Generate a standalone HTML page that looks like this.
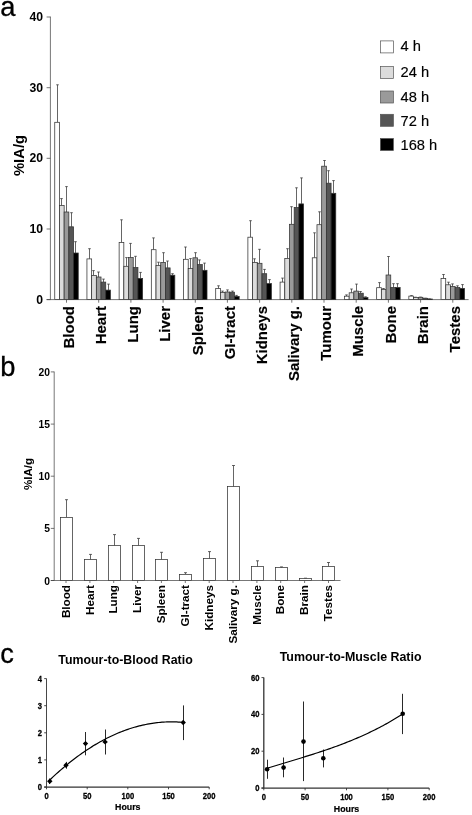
<!DOCTYPE html>
<html><head><meta charset="utf-8"><title>Figure</title>
<style>html,body{margin:0;padding:0;background:#fff}svg{display:block}</style></head>
<body><svg width="472" height="815" viewBox="0 0 472 815" style="filter:blur(0.3px)">
<rect width="472" height="815" fill="#fff"/>
<text x="0.3" y="15.9" font-size="27.3" stroke="#000" stroke-width="0.3" font-family='"Liberation Sans", Arial, sans-serif'>a</text>
<g stroke="#3c3c3c" stroke-width="0.7" fill="none">
<path d="M50.4 16.6V299.6"/>
<path d="M46.6 299.6H468.6"/>
<path d="M46.6 299.6H50.4"/>
<path d="M46.6 229.0H50.4"/>
<path d="M46.6 158.3H50.4"/>
<path d="M46.6 87.7H50.4"/>
<path d="M46.6 17.0H50.4"/>
<path d="M66.5 299.6V302.70000000000005"/>
<path d="M98.7 299.6V302.70000000000005"/>
<path d="M130.9 299.6V302.70000000000005"/>
<path d="M163.1 299.6V302.70000000000005"/>
<path d="M195.3 299.6V302.70000000000005"/>
<path d="M227.4 299.6V302.70000000000005"/>
<path d="M259.6 299.6V302.70000000000005"/>
<path d="M291.8 299.6V302.70000000000005"/>
<path d="M324.0 299.6V302.70000000000005"/>
<path d="M356.2 299.6V302.70000000000005"/>
<path d="M388.4 299.6V302.70000000000005"/>
<path d="M420.6 299.6V302.70000000000005"/>
<path d="M452.8 299.6V302.70000000000005"/>
</g>
<text x="43" y="232.9" text-anchor="end" font-weight="bold" font-size="12.2" font-family='"Liberation Sans", Arial, sans-serif'>10</text>
<text x="43" y="162.2" text-anchor="end" font-weight="bold" font-size="12.2" font-family='"Liberation Sans", Arial, sans-serif'>20</text>
<text x="43" y="91.6" text-anchor="end" font-weight="bold" font-size="12.2" font-family='"Liberation Sans", Arial, sans-serif'>30</text>
<text x="43" y="20.9" text-anchor="end" font-weight="bold" font-size="12.2" font-family='"Liberation Sans", Arial, sans-serif'>40</text>
<text x="43" y="304.0" text-anchor="end" font-weight="bold" font-size="12.2" font-family='"Liberation Sans", Arial, sans-serif'>0</text>
<text transform="translate(23.8 176) rotate(-90)" textLength="41" lengthAdjust="spacingAndGlyphs" font-weight="bold" font-size="15.5" font-family='"Liberation Sans", Arial, sans-serif'>%IA/g</text>
<g stroke="#333" stroke-width="0.75">
<path d="M57.50 122.3V84.8M56.20 84.8H58.80" fill="none"/>
<rect x="54.75" y="122.3" width="4.7" height="177.3" fill="#ffffff"/>
<path d="M61.50 205.6V198.6M60.20 198.6H62.80" fill="none"/>
<rect x="59.45" y="205.6" width="4.7" height="94.0" fill="#dcdcdc"/>
<path d="M66.50 212.0V186.6M65.20 186.6H67.80" fill="none"/>
<rect x="64.15" y="212.0" width="4.7" height="87.6" fill="#9a9a9a"/>
<path d="M71.50 226.8V212.7M70.20 212.7H72.80" fill="none"/>
<rect x="68.85" y="226.8" width="4.7" height="72.8" fill="#555555"/>
<path d="M75.50 253.0V241.7M74.20 241.7H76.80" fill="none"/>
<rect x="73.55" y="253.0" width="4.7" height="46.6" fill="#000000"/>
<path d="M89.50 258.9V248.7M88.20 248.7H90.80" fill="none"/>
<rect x="86.94" y="258.9" width="4.7" height="40.7" fill="#ffffff"/>
<path d="M93.50 275.4V270.6M92.20 270.6H94.80" fill="none"/>
<rect x="91.64" y="275.4" width="4.7" height="24.2" fill="#dcdcdc"/>
<path d="M98.50 277.0V272.0M97.20 272.0H99.80" fill="none"/>
<rect x="96.34" y="277.0" width="4.7" height="22.6" fill="#9a9a9a"/>
<path d="M103.50 282.1V279.1M102.20 279.1H104.80" fill="none"/>
<rect x="101.04" y="282.1" width="4.7" height="17.5" fill="#555555"/>
<path d="M108.50 290.1V284.1M107.20 284.1H109.80" fill="none"/>
<rect x="105.74" y="290.1" width="4.7" height="9.5" fill="#000000"/>
<path d="M121.50 242.5V219.8M120.20 219.8H122.80" fill="none"/>
<rect x="119.13" y="242.5" width="4.7" height="57.1" fill="#ffffff"/>
<path d="M126.50 266.3V257.6M125.20 257.6H127.80" fill="none"/>
<rect x="123.83" y="266.3" width="4.7" height="33.3" fill="#dcdcdc"/>
<path d="M130.50 257.6V243.4M129.20 243.4H131.80" fill="none"/>
<rect x="128.53" y="257.6" width="4.7" height="42.0" fill="#9a9a9a"/>
<path d="M135.50 267.5V256.3M134.20 256.3H136.80" fill="none"/>
<rect x="133.23" y="267.5" width="4.7" height="32.1" fill="#555555"/>
<path d="M140.50 278.4V272.4M139.20 272.4H141.80" fill="none"/>
<rect x="137.93" y="278.4" width="4.7" height="21.2" fill="#000000"/>
<path d="M153.50 249.7V237.9M152.20 237.9H154.80" fill="none"/>
<rect x="151.32" y="249.7" width="4.7" height="49.9" fill="#ffffff"/>
<path d="M158.50 265.6V262.2M157.20 262.2H159.80" fill="none"/>
<rect x="156.02" y="265.6" width="4.7" height="34.0" fill="#dcdcdc"/>
<path d="M163.50 262.4V252.7M162.20 252.7H164.80" fill="none"/>
<rect x="160.72" y="262.4" width="4.7" height="37.2" fill="#9a9a9a"/>
<path d="M167.50 267.9V261.0M166.20 261.0H168.80" fill="none"/>
<rect x="165.42" y="267.9" width="4.7" height="31.7" fill="#555555"/>
<path d="M172.50 275.2V273.7M171.20 273.7H173.80" fill="none"/>
<rect x="170.12" y="275.2" width="4.7" height="24.4" fill="#000000"/>
<path d="M185.50 259.3V247.0M184.20 247.0H186.80" fill="none"/>
<rect x="183.51" y="259.3" width="4.7" height="40.3" fill="#ffffff"/>
<path d="M190.50 268.6V258.6M189.20 258.6H191.80" fill="none"/>
<rect x="188.21" y="268.6" width="4.7" height="31.0" fill="#dcdcdc"/>
<path d="M195.50 257.8V252.7M194.20 252.7H196.80" fill="none"/>
<rect x="192.91" y="257.8" width="4.7" height="41.8" fill="#9a9a9a"/>
<path d="M199.50 264.6V259.9M198.20 259.9H200.80" fill="none"/>
<rect x="197.61" y="264.6" width="4.7" height="35.0" fill="#555555"/>
<path d="M204.50 270.3V263.1M203.20 263.1H205.80" fill="none"/>
<rect x="202.31" y="270.3" width="4.7" height="29.3" fill="#000000"/>
<path d="M218.50 288.6V285.8M217.20 285.8H219.80" fill="none"/>
<rect x="215.70" y="288.6" width="4.7" height="11.0" fill="#ffffff"/>
<path d="M222.50 292.4V291.1M221.20 291.1H223.80" fill="none"/>
<rect x="220.40" y="292.4" width="4.7" height="7.2" fill="#dcdcdc"/>
<path d="M227.50 292.0V289.9M226.20 289.9H228.80" fill="none"/>
<rect x="225.10" y="292.0" width="4.7" height="7.6" fill="#9a9a9a"/>
<path d="M232.50 292.2V291.1M231.20 291.1H233.80" fill="none"/>
<rect x="229.80" y="292.2" width="4.7" height="7.4" fill="#555555"/>
<path d="M236.50 296.4V295.4M235.20 295.4H237.80" fill="none"/>
<rect x="234.50" y="296.4" width="4.7" height="3.2" fill="#000000"/>
<path d="M250.50 237.2V220.7M249.20 220.7H251.80" fill="none"/>
<rect x="247.89" y="237.2" width="4.7" height="62.4" fill="#ffffff"/>
<path d="M254.50 262.4V258.8M253.20 258.8H255.80" fill="none"/>
<rect x="252.59" y="262.4" width="4.7" height="37.2" fill="#dcdcdc"/>
<path d="M259.50 263.3V249.3M258.20 249.3H260.80" fill="none"/>
<rect x="257.29" y="263.3" width="4.7" height="36.3" fill="#9a9a9a"/>
<path d="M264.50 273.7V269.4M263.20 269.4H265.80" fill="none"/>
<rect x="261.99" y="273.7" width="4.7" height="25.9" fill="#555555"/>
<path d="M269.50 283.6V279.6M268.20 279.6H270.80" fill="none"/>
<rect x="266.69" y="283.6" width="4.7" height="16.0" fill="#000000"/>
<path d="M282.50 282.1V278.1M281.20 278.1H283.80" fill="none"/>
<rect x="280.08" y="282.1" width="4.7" height="17.5" fill="#ffffff"/>
<path d="M287.50 258.4V248.7M286.20 248.7H288.80" fill="none"/>
<rect x="284.78" y="258.4" width="4.7" height="41.2" fill="#dcdcdc"/>
<path d="M291.50 224.3V206.7M290.20 206.7H292.80" fill="none"/>
<rect x="289.48" y="224.3" width="4.7" height="75.3" fill="#9a9a9a"/>
<path d="M296.50 207.5V187.8M295.20 187.8H297.80" fill="none"/>
<rect x="294.18" y="207.5" width="4.7" height="92.1" fill="#555555"/>
<path d="M301.50 203.9V177.9M300.20 177.9H302.80" fill="none"/>
<rect x="298.88" y="203.9" width="4.7" height="95.7" fill="#000000"/>
<path d="M314.50 257.8V232.8M313.20 232.8H315.80" fill="none"/>
<rect x="312.27" y="257.8" width="4.7" height="41.8" fill="#ffffff"/>
<path d="M319.50 224.7V211.8M318.20 211.8H320.80" fill="none"/>
<rect x="316.97" y="224.7" width="4.7" height="74.9" fill="#dcdcdc"/>
<path d="M324.50 166.2V160.5M323.20 160.5H325.80" fill="none"/>
<rect x="321.67" y="166.2" width="4.7" height="133.4" fill="#9a9a9a"/>
<path d="M328.50 183.2V170.7M327.20 170.7H329.80" fill="none"/>
<rect x="326.37" y="183.2" width="4.7" height="116.4" fill="#555555"/>
<path d="M333.50 193.3V180.6M332.20 180.6H334.80" fill="none"/>
<rect x="331.07" y="193.3" width="4.7" height="106.3" fill="#000000"/>
<path d="M346.50 296.2V294.9M345.20 294.9H347.80" fill="none"/>
<rect x="344.46" y="296.2" width="4.7" height="3.4" fill="#ffffff"/>
<path d="M351.50 292.8V289.0M350.20 289.0H352.80" fill="none"/>
<rect x="349.16" y="292.8" width="4.7" height="6.8" fill="#dcdcdc"/>
<path d="M356.50 291.1V284.1M355.20 284.1H357.80" fill="none"/>
<rect x="353.86" y="291.1" width="4.7" height="8.5" fill="#9a9a9a"/>
<path d="M360.50 293.2V291.5M359.20 291.5H361.80" fill="none"/>
<rect x="358.56" y="293.2" width="4.7" height="6.4" fill="#555555"/>
<path d="M365.50 297.6V296.8M364.20 296.8H366.80" fill="none"/>
<rect x="363.26" y="297.6" width="4.7" height="2.0" fill="#000000"/>
<path d="M379.50 287.7V282.6M378.20 282.6H380.80" fill="none"/>
<rect x="376.65" y="287.7" width="4.7" height="11.9" fill="#ffffff"/>
<path d="M383.50 289.4V288.5M382.20 288.5H384.80" fill="none"/>
<rect x="381.35" y="289.4" width="4.7" height="10.2" fill="#dcdcdc"/>
<path d="M388.50 275.0V256.5M387.20 256.5H389.80" fill="none"/>
<rect x="386.05" y="275.0" width="4.7" height="24.6" fill="#9a9a9a"/>
<path d="M393.50 287.5V283.7M392.20 283.7H394.80" fill="none"/>
<rect x="390.75" y="287.5" width="4.7" height="12.1" fill="#555555"/>
<path d="M397.50 287.5V283.7M396.20 283.7H398.80" fill="none"/>
<rect x="395.45" y="287.5" width="4.7" height="12.1" fill="#000000"/>
<path d="M411.50 296.1V295.6M410.20 295.6H412.80" fill="none"/>
<rect x="408.84" y="296.1" width="4.7" height="3.5" fill="#ffffff"/>
<path d="M415.50 297.5V297.2M414.20 297.2H416.80" fill="none"/>
<rect x="413.54" y="297.5" width="4.7" height="2.1" fill="#dcdcdc"/>
<path d="M420.50 297.3V297.1M419.20 297.1H421.80" fill="none"/>
<rect x="418.24" y="297.3" width="4.7" height="2.3" fill="#9a9a9a"/>
<path d="M425.50 298.3V298.2M424.20 298.2H426.80" fill="none"/>
<rect x="422.94" y="298.3" width="4.7" height="1.3" fill="#555555"/>
<path d="M429.50 299.0V298.9M428.20 298.9H430.80" fill="none"/>
<rect x="427.64" y="299.0" width="4.7" height="0.6" fill="#000000"/>
<path d="M443.50 278.6V274.5M442.20 274.5H444.80" fill="none"/>
<rect x="441.03" y="278.6" width="4.7" height="21.0" fill="#ffffff"/>
<path d="M448.50 284.8V282.2M447.20 282.2H449.80" fill="none"/>
<rect x="445.73" y="284.8" width="4.7" height="14.8" fill="#dcdcdc"/>
<path d="M452.50 286.6V283.9M451.20 283.9H453.80" fill="none"/>
<rect x="450.43" y="286.6" width="4.7" height="13.0" fill="#9a9a9a"/>
<path d="M457.50 287.6V285.8M456.20 285.8H458.80" fill="none"/>
<rect x="455.13" y="287.6" width="4.7" height="12.0" fill="#555555"/>
<path d="M462.50 288.4V284.6M461.20 284.6H463.80" fill="none"/>
<rect x="459.83" y="288.4" width="4.7" height="11.2" fill="#000000"/>
</g>
<text transform="translate(73.7 306) rotate(-90)" text-anchor="end" font-weight="bold" font-size="15" stroke="#000" stroke-width="0.15" font-family='"Liberation Sans", Arial, sans-serif'>Blood</text>
<text transform="translate(105.9 306) rotate(-90)" text-anchor="end" font-weight="bold" font-size="15" stroke="#000" stroke-width="0.15" font-family='"Liberation Sans", Arial, sans-serif'>Heart</text>
<text transform="translate(138.1 306) rotate(-90)" text-anchor="end" font-weight="bold" font-size="15" stroke="#000" stroke-width="0.15" font-family='"Liberation Sans", Arial, sans-serif'>Lung</text>
<text transform="translate(170.3 306) rotate(-90)" text-anchor="end" font-weight="bold" font-size="15" stroke="#000" stroke-width="0.15" font-family='"Liberation Sans", Arial, sans-serif'>Liver</text>
<text transform="translate(202.5 306) rotate(-90)" text-anchor="end" font-weight="bold" font-size="15" stroke="#000" stroke-width="0.15" font-family='"Liberation Sans", Arial, sans-serif'>Spleen</text>
<text transform="translate(234.6 306) rotate(-90)" text-anchor="end" font-weight="bold" font-size="15" stroke="#000" stroke-width="0.15" font-family='"Liberation Sans", Arial, sans-serif'>GI-tract</text>
<text transform="translate(266.8 306) rotate(-90)" text-anchor="end" font-weight="bold" font-size="15" stroke="#000" stroke-width="0.15" font-family='"Liberation Sans", Arial, sans-serif'>Kidneys</text>
<text transform="translate(299.0 306) rotate(-90)" text-anchor="end" font-weight="bold" font-size="15" stroke="#000" stroke-width="0.15" font-family='"Liberation Sans", Arial, sans-serif'>Salivary g.</text>
<text transform="translate(331.2 306) rotate(-90)" text-anchor="end" font-weight="bold" font-size="15" stroke="#000" stroke-width="0.15" font-family='"Liberation Sans", Arial, sans-serif'>Tumour</text>
<text transform="translate(363.4 306) rotate(-90)" text-anchor="end" font-weight="bold" font-size="15" stroke="#000" stroke-width="0.15" font-family='"Liberation Sans", Arial, sans-serif'>Muscle</text>
<text transform="translate(395.6 306) rotate(-90)" text-anchor="end" font-weight="bold" font-size="15" stroke="#000" stroke-width="0.15" font-family='"Liberation Sans", Arial, sans-serif'>Bone</text>
<text transform="translate(427.8 306) rotate(-90)" text-anchor="end" font-weight="bold" font-size="15" stroke="#000" stroke-width="0.15" font-family='"Liberation Sans", Arial, sans-serif'>Brain</text>
<text transform="translate(460.0 306) rotate(-90)" text-anchor="end" font-weight="bold" font-size="15" stroke="#000" stroke-width="0.15" font-family='"Liberation Sans", Arial, sans-serif'>Testes</text>
<rect x="380.4" y="40.9" width="13" height="12" fill="#ffffff" stroke="#555" stroke-width="0.7"/>
<text x="400.5" y="51.3" font-size="14.7" stroke="#000" stroke-width="0.15" font-family='"Liberation Sans", Arial, sans-serif'>4 h</text>
<rect x="380.4" y="66.5" width="13" height="12" fill="#dcdcdc" stroke="#555" stroke-width="0.7"/>
<text x="400.5" y="76.7" font-size="14.7" stroke="#000" stroke-width="0.15" font-family='"Liberation Sans", Arial, sans-serif'>24 h</text>
<rect x="380.4" y="91.0" width="13" height="12" fill="#9a9a9a" stroke="#555" stroke-width="0.7"/>
<text x="400.5" y="101.5" font-size="14.7" stroke="#000" stroke-width="0.15" font-family='"Liberation Sans", Arial, sans-serif'>48 h</text>
<rect x="380.4" y="114.3" width="13" height="12" fill="#555555" stroke="#555" stroke-width="0.7"/>
<text x="400.5" y="125.7" font-size="14.7" stroke="#000" stroke-width="0.15" font-family='"Liberation Sans", Arial, sans-serif'>72 h</text>
<rect x="380.4" y="138.5" width="13" height="12" fill="#000000" stroke="#555" stroke-width="0.7"/>
<text x="400.5" y="149.7" font-size="14.7" stroke="#000" stroke-width="0.15" font-family='"Liberation Sans", Arial, sans-serif'>168 h</text>
<text x="0.3" y="375.9" font-size="27.3" stroke="#000" stroke-width="0.3" font-family='"Liberation Sans", Arial, sans-serif'>b</text>
<g stroke="#3c3c3c" stroke-width="0.7" fill="none">
<path d="M54.2 371.6V580.5"/>
<path d="M50.8 580.5H340.5"/>
<path d="M50.8 580.5H54.2"/>
<path d="M50.8 528.4H54.2"/>
<path d="M50.8 476.2H54.2"/>
<path d="M50.8 424.1H54.2"/>
<path d="M50.8 371.9H54.2"/>
<path d="M66.0 580.5V583.0"/>
<path d="M89.9 580.5V583.0"/>
<path d="M113.7 580.5V583.0"/>
<path d="M137.6 580.5V583.0"/>
<path d="M161.4 580.5V583.0"/>
<path d="M185.3 580.5V583.0"/>
<path d="M209.2 580.5V583.0"/>
<path d="M233.0 580.5V583.0"/>
<path d="M256.9 580.5V583.0"/>
<path d="M280.7 580.5V583.0"/>
<path d="M304.6 580.5V583.0"/>
<path d="M328.5 580.5V583.0"/>
</g>
<text x="50" y="584.5" text-anchor="end" font-weight="bold" font-size="10.3" font-family='"Liberation Sans", Arial, sans-serif'>0</text>
<text x="50" y="532.4" text-anchor="end" font-weight="bold" font-size="10.3" font-family='"Liberation Sans", Arial, sans-serif'>5</text>
<text x="50" y="480.2" text-anchor="end" font-weight="bold" font-size="10.3" font-family='"Liberation Sans", Arial, sans-serif'>10</text>
<text x="50" y="428.1" text-anchor="end" font-weight="bold" font-size="10.3" font-family='"Liberation Sans", Arial, sans-serif'>15</text>
<text x="50" y="375.9" text-anchor="end" font-weight="bold" font-size="10.3" font-family='"Liberation Sans", Arial, sans-serif'>20</text>
<text transform="translate(32.4 474) rotate(-90)" text-anchor="middle" font-weight="bold" font-size="11.6" font-family='"Liberation Sans", Arial, sans-serif'>%IA/g</text>
<g stroke="#333" stroke-width="0.75">
<path d="M66.50 517.3V499.7M65.00 499.7H68.00" fill="none"/>
<rect x="60.50" y="517.5" width="12" height="63.0" fill="#fff"/>
<path d="M90.50 559.7V554.4M89.00 554.4H92.00" fill="none"/>
<rect x="84.50" y="559.5" width="12" height="21.0" fill="#fff"/>
<path d="M114.50 545.9V534.6M113.00 534.6H116.00" fill="none"/>
<rect x="108.50" y="545.5" width="12" height="35.0" fill="#fff"/>
<path d="M138.50 545.6V538.4M137.00 538.4H140.00" fill="none"/>
<rect x="132.50" y="545.5" width="12" height="35.0" fill="#fff"/>
<path d="M161.50 559.7V552.3M160.00 552.3H163.00" fill="none"/>
<rect x="155.50" y="559.5" width="12" height="21.0" fill="#fff"/>
<path d="M185.50 574.0V572.7M184.00 572.7H187.00" fill="none"/>
<rect x="179.50" y="574.5" width="12" height="6.0" fill="#fff"/>
<path d="M209.50 558.8V551.6M208.00 551.6H211.00" fill="none"/>
<rect x="203.50" y="558.5" width="12" height="22.0" fill="#fff"/>
<path d="M233.50 486.8V465.5M232.00 465.5H235.00" fill="none"/>
<rect x="227.50" y="486.5" width="12" height="94.0" fill="#fff"/>
<path d="M257.50 566.9V560.8M256.00 560.8H259.00" fill="none"/>
<rect x="251.50" y="566.5" width="12" height="14.0" fill="#fff"/>
<path d="M281.50 567.9V566.9M280.00 566.9H283.00" fill="none"/>
<rect x="275.50" y="567.5" width="12" height="13.0" fill="#fff"/>
<path d="M305.50 578.7V578.2M304.00 578.2H307.00" fill="none"/>
<rect x="299.50" y="578.5" width="12" height="2.0" fill="#fff"/>
<path d="M328.50 566.5V562.5M327.00 562.5H330.00" fill="none"/>
<rect x="322.50" y="566.5" width="12" height="14.0" fill="#fff"/>
</g>
<text transform="translate(69.7 585) rotate(-90)" text-anchor="end" font-weight="bold" font-size="11.7" font-family='"Liberation Sans", Arial, sans-serif'>Blood</text>
<text transform="translate(93.6 585) rotate(-90)" text-anchor="end" font-weight="bold" font-size="11.7" font-family='"Liberation Sans", Arial, sans-serif'>Heart</text>
<text transform="translate(117.4 585) rotate(-90)" text-anchor="end" font-weight="bold" font-size="11.7" font-family='"Liberation Sans", Arial, sans-serif'>Lung</text>
<text transform="translate(141.3 585) rotate(-90)" text-anchor="end" font-weight="bold" font-size="11.7" font-family='"Liberation Sans", Arial, sans-serif'>Liver</text>
<text transform="translate(165.1 585) rotate(-90)" text-anchor="end" font-weight="bold" font-size="11.7" font-family='"Liberation Sans", Arial, sans-serif'>Spleen</text>
<text transform="translate(189.0 585) rotate(-90)" text-anchor="end" font-weight="bold" font-size="11.7" font-family='"Liberation Sans", Arial, sans-serif'>GI-tract</text>
<text transform="translate(212.9 585) rotate(-90)" text-anchor="end" font-weight="bold" font-size="11.7" font-family='"Liberation Sans", Arial, sans-serif'>Kidneys</text>
<text transform="translate(236.7 585) rotate(-90)" text-anchor="end" font-weight="bold" font-size="11.7" font-family='"Liberation Sans", Arial, sans-serif'>Salivary g.</text>
<text transform="translate(260.6 585) rotate(-90)" text-anchor="end" font-weight="bold" font-size="11.7" font-family='"Liberation Sans", Arial, sans-serif'>Muscle</text>
<text transform="translate(284.4 585) rotate(-90)" text-anchor="end" font-weight="bold" font-size="11.7" font-family='"Liberation Sans", Arial, sans-serif'>Bone</text>
<text transform="translate(308.3 585) rotate(-90)" text-anchor="end" font-weight="bold" font-size="11.7" font-family='"Liberation Sans", Arial, sans-serif'>Brain</text>
<text transform="translate(332.2 585) rotate(-90)" text-anchor="end" font-weight="bold" font-size="11.7" font-family='"Liberation Sans", Arial, sans-serif'>Testes</text>
<text x="0.3" y="663" font-size="27.3" stroke="#000" stroke-width="0.3" font-family='"Liberation Sans", Arial, sans-serif'>c</text>
<text x="125.5" y="664" text-anchor="middle" font-weight="bold" font-size="12.3" textLength="134.4" lengthAdjust="spacingAndGlyphs" font-family='"Liberation Sans", Arial, sans-serif'>Tumour-to-Blood Ratio</text>
<g stroke="#333" fill="none">
<path d="M46.5 678.6V787" stroke-width="0.9"/>
<path d="M44.2 787H209.2" stroke-width="1.25"/>
<path d="M44.2 787.0H46.5" stroke-width="0.9"/>
<path d="M44.2 759.9H46.5" stroke-width="0.9"/>
<path d="M44.2 732.8H46.5" stroke-width="0.9"/>
<path d="M44.2 705.7H46.5" stroke-width="0.9"/>
<path d="M44.2 678.6H46.5" stroke-width="0.9"/>
<path d="M46.5 787V789.3" stroke-width="0.9"/>
<path d="M87.2 787V789.3" stroke-width="0.9"/>
<path d="M127.8 787V789.3" stroke-width="0.9"/>
<path d="M168.5 787V789.3" stroke-width="0.9"/>
<path d="M209.2 787V789.3" stroke-width="0.9"/>
</g>
<text transform="translate(42.1 790.0) scale(1 1.16)" text-anchor="end" font-weight="bold" font-size="7.6" stroke="#000" stroke-width="0.25" font-family='"Liberation Sans", Arial, sans-serif'>0</text>
<text transform="translate(42.1 762.9) scale(1 1.16)" text-anchor="end" font-weight="bold" font-size="7.6" stroke="#000" stroke-width="0.25" font-family='"Liberation Sans", Arial, sans-serif'>1</text>
<text transform="translate(42.1 735.8) scale(1 1.16)" text-anchor="end" font-weight="bold" font-size="7.6" stroke="#000" stroke-width="0.25" font-family='"Liberation Sans", Arial, sans-serif'>2</text>
<text transform="translate(42.1 708.7) scale(1 1.16)" text-anchor="end" font-weight="bold" font-size="7.6" stroke="#000" stroke-width="0.25" font-family='"Liberation Sans", Arial, sans-serif'>3</text>
<text transform="translate(42.1 681.6) scale(1 1.16)" text-anchor="end" font-weight="bold" font-size="7.6" stroke="#000" stroke-width="0.25" font-family='"Liberation Sans", Arial, sans-serif'>4</text>
<text transform="translate(46.5 799.1) scale(1 1.16)" text-anchor="middle" font-weight="bold" font-size="7.6" stroke="#000" stroke-width="0.25" font-family='"Liberation Sans", Arial, sans-serif'>0</text>
<text transform="translate(87.2 799.1) scale(1 1.16)" text-anchor="middle" font-weight="bold" font-size="7.6" stroke="#000" stroke-width="0.25" font-family='"Liberation Sans", Arial, sans-serif'>50</text>
<text transform="translate(127.8 799.1) scale(1 1.16)" text-anchor="middle" font-weight="bold" font-size="7.6" stroke="#000" stroke-width="0.25" font-family='"Liberation Sans", Arial, sans-serif'>100</text>
<text transform="translate(168.5 799.1) scale(1 1.16)" text-anchor="middle" font-weight="bold" font-size="7.6" stroke="#000" stroke-width="0.25" font-family='"Liberation Sans", Arial, sans-serif'>150</text>
<text transform="translate(209.2 799.1) scale(1 1.16)" text-anchor="middle" font-weight="bold" font-size="7.6" stroke="#000" stroke-width="0.25" font-family='"Liberation Sans", Arial, sans-serif'>200</text>
<text x="127.8" y="810.3" text-anchor="middle" font-weight="bold" font-size="8.8" stroke="#000" stroke-width="0.2" font-family='"Liberation Sans", Arial, sans-serif'>Hours</text>
<g stroke="#111" stroke-width="0.9" fill="none">
<path d="M49.5 784.0V778.6"/>
<path d="M66.5 768.7V761.9"/>
<path d="M85.5 755.3V732.0"/>
<path d="M105.5 754.5V729.5"/>
<path d="M183.5 740.1V705.4"/>
</g>
<path d="M49.75 779.98L51.38 778.44L53.01 776.91L54.63 775.41L56.26 773.93L57.89 772.47L59.52 771.03L61.14 769.62L62.77 768.22L64.40 766.84L66.02 765.49L67.65 764.15L69.28 762.84L70.91 761.54L72.53 760.27L74.16 759.02L75.79 757.79L77.41 756.58L79.04 755.39L80.67 754.22L82.29 753.07L83.92 751.94L85.55 750.84L87.17 749.75L88.80 748.69L90.43 747.64L92.06 746.62L93.68 745.61L95.31 744.63L96.94 743.67L98.56 742.73L100.19 741.81L101.82 740.91L103.44 740.03L105.07 739.17L106.70 738.34L108.33 737.52L109.95 736.72L111.58 735.95L113.21 735.19L114.83 734.46L116.46 733.75L118.09 733.06L119.72 732.38L121.34 731.73L122.97 731.10L124.60 730.50L126.22 729.91L127.85 729.34L129.48 728.79L131.10 728.27L132.73 727.76L134.36 727.28L135.99 726.81L137.61 726.37L139.24 725.95L140.87 725.55L142.49 725.16L144.12 724.80L145.75 724.47L147.37 724.15L149.00 723.85L150.63 723.57L152.25 723.32L153.88 723.08L155.51 722.86L157.14 722.67L158.76 722.50L160.39 722.34L162.02 722.21L163.64 722.10L165.27 722.01L166.90 721.94L168.53 721.89L170.15 721.86L171.78 721.86L173.41 721.87L175.03 721.90L176.66 721.96L178.29 722.03L179.91 722.13L181.54 722.25L183.17 722.38" stroke="#000" stroke-width="1.2" fill="none"/>
<path d="M49.8 778.6L52.5 781.3L49.8 784.0L47.1 781.3Z" fill="#000"/>
<path d="M66.0 762.6L68.7 765.3L66.0 768.0L63.3 765.3Z" fill="#000"/>
<path d="M85.5 740.9L88.2 743.6L85.5 746.3L82.8 743.6Z" fill="#000"/>
<path d="M105.1 739.2L107.8 741.9L105.1 744.6L102.4 741.9Z" fill="#000"/>
<path d="M183.2 719.8L185.9 722.5L183.2 725.2L180.5 722.5Z" fill="#000"/>
<text x="350.6" y="660.6" text-anchor="middle" font-weight="bold" font-size="12.3" textLength="141.9" lengthAdjust="spacingAndGlyphs" font-family='"Liberation Sans", Arial, sans-serif'>Tumour-to-Muscle Ratio</text>
<g stroke="#333" fill="none">
<path d="M263.8 677.6V788" stroke-width="1.3"/>
<path d="M261.5 788H429.2" stroke-width="1.25"/>
<path d="M261.5 788.0H263.8" stroke-width="0.9"/>
<path d="M261.5 751.2H263.8" stroke-width="0.9"/>
<path d="M261.5 714.4H263.8" stroke-width="0.9"/>
<path d="M261.5 677.6H263.8" stroke-width="0.9"/>
<path d="M263.8 788V790.3" stroke-width="0.9"/>
<path d="M305.1 788V790.3" stroke-width="0.9"/>
<path d="M346.5 788V790.3" stroke-width="0.9"/>
<path d="M387.9 788V790.3" stroke-width="0.9"/>
<path d="M429.2 788V790.3" stroke-width="0.9"/>
</g>
<text transform="translate(259.40000000000003 791.0) scale(1 1.16)" text-anchor="end" font-weight="bold" font-size="7.6" stroke="#000" stroke-width="0.25" font-family='"Liberation Sans", Arial, sans-serif'>0</text>
<text transform="translate(259.40000000000003 754.2) scale(1 1.16)" text-anchor="end" font-weight="bold" font-size="7.6" stroke="#000" stroke-width="0.25" font-family='"Liberation Sans", Arial, sans-serif'>20</text>
<text transform="translate(259.40000000000003 717.4) scale(1 1.16)" text-anchor="end" font-weight="bold" font-size="7.6" stroke="#000" stroke-width="0.25" font-family='"Liberation Sans", Arial, sans-serif'>40</text>
<text transform="translate(259.40000000000003 680.6) scale(1 1.16)" text-anchor="end" font-weight="bold" font-size="7.6" stroke="#000" stroke-width="0.25" font-family='"Liberation Sans", Arial, sans-serif'>60</text>
<text transform="translate(263.8 799.9) scale(1 1.16)" text-anchor="middle" font-weight="bold" font-size="7.6" stroke="#000" stroke-width="0.25" font-family='"Liberation Sans", Arial, sans-serif'>0</text>
<text transform="translate(305.1 799.9) scale(1 1.16)" text-anchor="middle" font-weight="bold" font-size="7.6" stroke="#000" stroke-width="0.25" font-family='"Liberation Sans", Arial, sans-serif'>50</text>
<text transform="translate(346.5 799.9) scale(1 1.16)" text-anchor="middle" font-weight="bold" font-size="7.6" stroke="#000" stroke-width="0.25" font-family='"Liberation Sans", Arial, sans-serif'>100</text>
<text transform="translate(387.9 799.9) scale(1 1.16)" text-anchor="middle" font-weight="bold" font-size="7.6" stroke="#000" stroke-width="0.25" font-family='"Liberation Sans", Arial, sans-serif'>150</text>
<text transform="translate(429.2 799.9) scale(1 1.16)" text-anchor="middle" font-weight="bold" font-size="7.6" stroke="#000" stroke-width="0.25" font-family='"Liberation Sans", Arial, sans-serif'>200</text>
<text x="346.5" y="811.5" text-anchor="middle" font-weight="bold" font-size="8.8" stroke="#000" stroke-width="0.2" font-family='"Liberation Sans", Arial, sans-serif'>Hours</text>
<g stroke="#111" stroke-width="0.9" fill="none">
<path d="M267.5 778.8V759.7"/>
<path d="M283.5 777.3V757.5"/>
<path d="M303.5 781.1V701.5"/>
<path d="M323.5 767.4V749.5"/>
<path d="M402.5 734.1V693.8"/>
</g>
<path d="M267.11 768.26L268.76 767.75L270.42 767.24L272.07 766.74L273.72 766.23L275.38 765.73L277.03 765.22L278.69 764.72L280.34 764.22L281.99 763.72L283.65 763.23L285.30 762.73L286.96 762.23L288.61 761.73L290.26 761.23L291.92 760.73L293.57 760.23L295.23 759.73L296.88 759.23L298.53 758.73L300.19 758.22L301.84 757.71L303.50 757.20L305.15 756.69L306.80 756.18L308.46 755.66L310.11 755.14L311.77 754.61L313.42 754.09L315.07 753.55L316.73 753.02L318.38 752.48L320.04 751.93L321.69 751.39L323.34 750.83L325.00 750.27L326.65 749.71L328.31 749.14L329.96 748.56L331.61 747.98L333.27 747.39L334.92 746.80L336.58 746.19L338.23 745.59L339.88 744.97L341.54 744.35L343.19 743.71L344.85 743.08L346.50 742.43L348.15 741.77L349.81 741.11L351.46 740.43L353.12 739.75L354.77 739.06L356.42 738.36L358.08 737.65L359.73 736.93L361.39 736.20L363.04 735.46L364.69 734.70L366.35 733.94L368.00 733.17L369.66 732.38L371.31 731.58L372.96 730.77L374.62 729.95L376.27 729.12L377.93 728.27L379.58 727.41L381.23 726.54L382.89 725.66L384.54 724.76L386.20 723.85L387.85 722.92L389.50 721.98L391.16 721.03L392.81 720.06L394.47 719.07L396.12 718.08L397.77 717.06L399.43 716.03L401.08 714.99L402.74 713.93" stroke="#000" stroke-width="1.2" fill="none"/>
<circle cx="267.1" cy="769.2" r="2.3" fill="#000"/>
<circle cx="283.6" cy="767.6" r="2.3" fill="#000"/>
<circle cx="303.5" cy="741.6" r="2.3" fill="#000"/>
<circle cx="323.3" cy="758.2" r="2.3" fill="#000"/>
<circle cx="402.7" cy="713.8" r="2.3" fill="#000"/>
</svg></body></html>
